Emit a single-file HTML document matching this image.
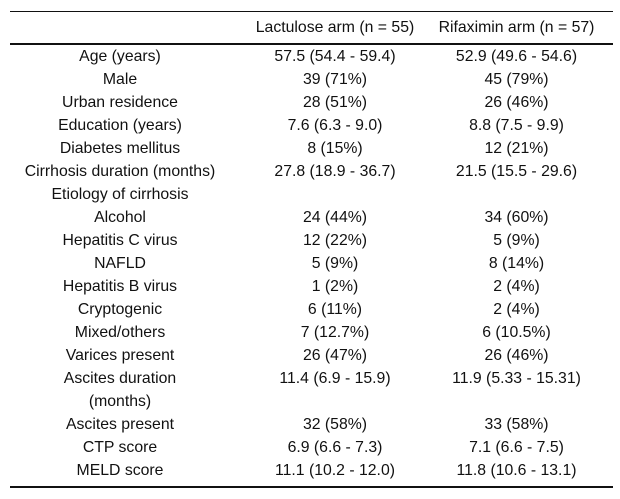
<!DOCTYPE html>
<html><head><meta charset="utf-8"><style>
body{margin:0;width:620px;height:499px;background:#fff;font-family:"Liberation Sans",sans-serif;font-size:15.8px;color:#111;position:relative;overflow:hidden}
.line{position:absolute;left:10px;width:603px;background:#111}
.c{position:absolute;text-align:center;white-space:nowrap;line-height:23px}
.c1{left:10px;width:220px}.c2{left:236px;width:198px}.c3{left:420px;width:193px}
</style></head><body>
<div class="line" style="top:11px;height:1px"></div>
<div class="line" style="top:43px;height:2px"></div>
<div class="line" style="top:486px;height:2px"></div>
<div class="c c2" style="top:16px">Lactulose arm (n = 55)</div>
<div class="c c3" style="top:16px">Rifaximin arm (n = 57)</div>
<script>
const labels=["Age (years)","Male","Urban residence","Education (years)","Diabetes mellitus","Cirrhosis duration (months)","Etiology of cirrhosis","Alcohol","Hepatitis C virus","NAFLD","Hepatitis B virus","Cryptogenic","Mixed/others","Varices present","Ascites duration","(months)","Ascites present","CTP score","MELD score"];
const lact=["57.5 (54.4 - 59.4)","39 (71%)","28 (51%)","7.6 (6.3 - 9.0)","8 (15%)","27.8 (18.9 - 36.7)","","24 (44%)","12 (22%)","5 (9%)","1 (2%)","6 (11%)","7 (12.7%)","26 (47%)","11.4 (6.9 - 15.9)","","32 (58%)","6.9 (6.6 - 7.3)","11.1 (10.2 - 12.0)"];
const rifa=["52.9 (49.6 - 54.6)","45 (79%)","26 (46%)","8.8 (7.5 - 9.9)","12 (21%)","21.5 (15.5 - 29.6)","","34 (60%)","5 (9%)","8 (14%)","2 (4%)","2 (4%)","6 (10.5%)","26 (46%)","11.9 (5.33 - 15.31)","","33 (58%)","7.1 (6.6 - 7.5)","11.8 (10.6 - 13.1)"];
const root=document.body;
labels.forEach((l,i)=>{
 const top=45+i*23;
 [[l,'c1'],[lact[i],'c2'],[rifa[i],'c3']].forEach(([t,c],j)=>{
  const d=document.createElement('div');
  d.className='c '+c;d.style.top=top+'px';d.textContent=t;
  
  
  root.appendChild(d);
 });
});
</script>
</body></html>
